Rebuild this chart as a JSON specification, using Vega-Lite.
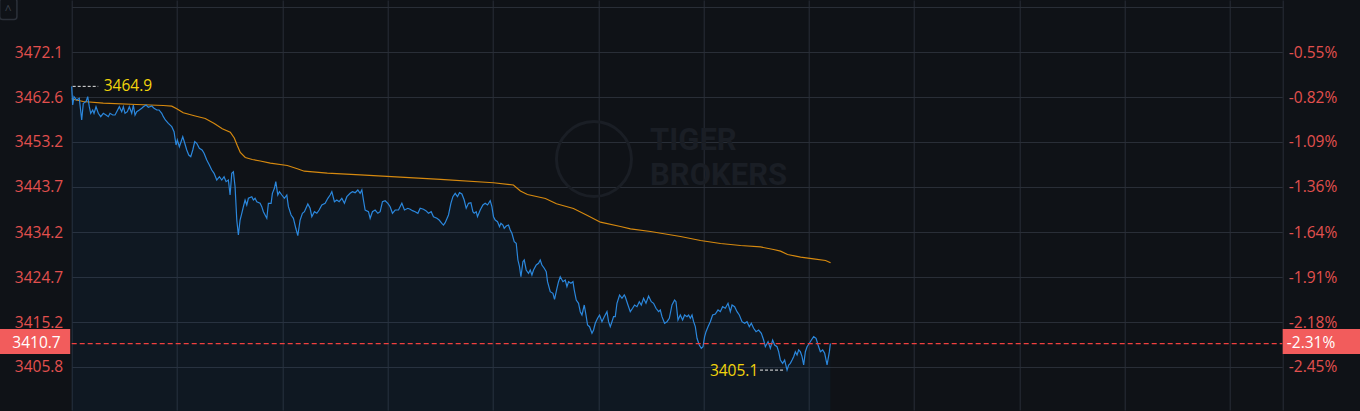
{
"$schema":"https://vega.github.io/schema/vega-lite/v6.json",
"width":1210.6,"height":410,"autosize":"none",
"padding":{"left":71.7,"right":77.7,"top":0,"bottom":1},
"background":"#0f1217",
"config":{"view":{"stroke":null},"axis":{"labelFont":"Open Sans","labelFontSize":15.5}},
"datasets":{
"price":[
{"t":0,"v":3464.9},{"t":0.2,"v":3460.97},{"t":0.46,"v":3462.72},{"t":1.0,"v":3462.02},{"t":1.52,"v":3462.38},{"t":2.0,"v":3457.81},{"t":2.32,"v":3461.33},{"t":2.86,"v":3461.67},{"t":3.2,"v":3462.72},{"t":3.52,"v":3460.61},{"t":3.8,"v":3459.22},{"t":4.2,"v":3459.92},{"t":4.46,"v":3459.22},{"t":4.86,"v":3460.61},{"t":5.32,"v":3459.22},{"t":5.8,"v":3458.51},{"t":6.32,"v":3459.22},{"t":6.86,"v":3458.86},{"t":7.32,"v":3458.51},{"t":7.66,"v":3459.22},{"t":8.2,"v":3458.86},{"t":8.66,"v":3458.86},{"t":9.0,"v":3459.56},{"t":9.52,"v":3460.61},{"t":10.0,"v":3459.56},{"t":10.32,"v":3460.61},{"t":10.66,"v":3459.22},{"t":11.12,"v":3459.56},{"t":11.52,"v":3460.61},{"t":12.0,"v":3459.22},{"t":12.32,"v":3460.97},{"t":12.66,"v":3458.86},{"t":13.0,"v":3459.56},{"t":13.52,"v":3459.92},{"t":14.0,"v":3460.28},{"t":14.32,"v":3460.61},{"t":14.86,"v":3460.97},{"t":15.32,"v":3460.49},{"t":16.0,"v":3460.76},{"t":16.46,"v":3460.28},{"t":17.0,"v":3459.92},{"t":17.46,"v":3459.92},{"t":18.0,"v":3459.22},{"t":18.32,"v":3458.51},{"t":18.72,"v":3457.81},{"t":19.32,"v":3457.11},{"t":20.0,"v":3456.4},{"t":20.46,"v":3455.34},{"t":20.86,"v":3452.54},{"t":21.12,"v":3453.59},{"t":21.52,"v":3452.18},{"t":22.2,"v":3454.29},{"t":22.6,"v":3452.9},{"t":23.0,"v":3451.49},{"t":23.4,"v":3450.43},{"t":23.8,"v":3450.08},{"t":24.2,"v":3451.49},{"t":24.6,"v":3453.24},{"t":25.0,"v":3452.9},{"t":25.52,"v":3451.85},{"t":26.06,"v":3451.49},{"t":26.46,"v":3450.79},{"t":27.0,"v":3449.38},{"t":27.52,"v":3448.33},{"t":28.0,"v":3447.27},{"t":28.46,"v":3446.58},{"t":29.0,"v":3445.16},{"t":29.52,"v":3445.86},{"t":30.0,"v":3445.16},{"t":30.46,"v":3445.86},{"t":30.86,"v":3444.81},{"t":31.32,"v":3445.16},{"t":31.66,"v":3442.0},{"t":32.0,"v":3446.58},{"t":32.32,"v":3446.91},{"t":32.66,"v":3443.75},{"t":33.0,"v":3436.73},{"t":33.32,"v":3433.57},{"t":33.66,"v":3436.73},{"t":34.0,"v":3438.15},{"t":34.32,"v":3439.54},{"t":34.66,"v":3440.95},{"t":35.0,"v":3439.9},{"t":35.32,"v":3441.31},{"t":36.0,"v":3441.65},{"t":36.32,"v":3440.95},{"t":36.66,"v":3441.31},{"t":37.0,"v":3440.59},{"t":37.66,"v":3440.25},{"t":38.0,"v":3439.54},{"t":38.32,"v":3438.48},{"t":39.0,"v":3437.09},{"t":39.32,"v":3440.25},{"t":39.86,"v":3440.25},{"t":40.12,"v":3442.36},{"t":40.52,"v":3443.42},{"t":40.8,"v":3444.81},{"t":41.2,"v":3442.0},{"t":41.52,"v":3442.7},{"t":42.0,"v":3442.0},{"t":42.52,"v":3441.31},{"t":43.0,"v":3442.0},{"t":43.32,"v":3439.54},{"t":43.86,"v":3437.79},{"t":44.32,"v":3437.09},{"t":44.8,"v":3434.99},{"t":45.2,"v":3433.43},{"t":45.66,"v":3436.73},{"t":46.12,"v":3438.15},{"t":46.52,"v":3438.48},{"t":47.2,"v":3440.11},{"t":47.66,"v":3439.2},{"t":48.0,"v":3437.43},{"t":48.52,"v":3438.48},{"t":49.0,"v":3438.15},{"t":49.46,"v":3438.84},{"t":50.0,"v":3439.9},{"t":50.66,"v":3440.25},{"t":51.2,"v":3441.31},{"t":51.66,"v":3442.0},{"t":52.0,"v":3442.7},{"t":52.52,"v":3440.59},{"t":53.0,"v":3440.95},{"t":53.46,"v":3440.59},{"t":54.0,"v":3441.31},{"t":54.52,"v":3440.25},{"t":55.0,"v":3441.65},{"t":55.66,"v":3442.36},{"t":56.12,"v":3442.7},{"t":56.66,"v":3442.49},{"t":57.2,"v":3443.06},{"t":57.66,"v":3442.36},{"t":58.0,"v":3443.06},{"t":58.32,"v":3440.95},{"t":58.66,"v":3438.84},{"t":59.32,"v":3438.48},{"t":59.66,"v":3437.09},{"t":60.12,"v":3438.48},{"t":60.66,"v":3438.84},{"t":61.2,"v":3438.15},{"t":61.66,"v":3438.48},{"t":62.12,"v":3440.59},{"t":62.66,"v":3440.8},{"t":63.2,"v":3440.25},{"t":63.66,"v":3439.54},{"t":64.12,"v":3438.15},{"t":64.66,"v":3438.84},{"t":65.32,"v":3438.84},{"t":66.0,"v":3440.25},{"t":66.52,"v":3438.84},{"t":67.2,"v":3439.2},{"t":67.66,"v":3438.99},{"t":68.12,"v":3438.7},{"t":68.66,"v":3438.48},{"t":69.2,"v":3438.15},{"t":69.66,"v":3439.2},{"t":70.32,"v":3438.99},{"t":70.8,"v":3438.7},{"t":71.32,"v":3438.15},{"t":71.86,"v":3438.48},{"t":72.32,"v":3437.43},{"t":73.0,"v":3437.09},{"t":73.46,"v":3436.73},{"t":74.0,"v":3436.04},{"t":74.32,"v":3435.68},{"t":74.66,"v":3436.17},{"t":75.32,"v":3437.79},{"t":75.8,"v":3440.25},{"t":76.2,"v":3441.65},{"t":76.66,"v":3442.36},{"t":77.12,"v":3441.65},{"t":77.52,"v":3442.49},{"t":78.0,"v":3442.21},{"t":78.46,"v":3440.95},{"t":78.86,"v":3439.2},{"t":79.32,"v":3440.25},{"t":79.8,"v":3440.38},{"t":80.2,"v":3438.48},{"t":80.46,"v":3438.15},{"t":80.86,"v":3438.48},{"t":81.12,"v":3437.43},{"t":81.66,"v":3438.84},{"t":82.2,"v":3439.9},{"t":82.66,"v":3440.25},{"t":83.12,"v":3439.9},{"t":83.66,"v":3440.8},{"t":84.0,"v":3439.54},{"t":84.32,"v":3437.43},{"t":84.66,"v":3436.73},{"t":85.12,"v":3436.38},{"t":85.52,"v":3435.32},{"t":85.8,"v":3436.04},{"t":86.2,"v":3435.68},{"t":86.46,"v":3434.99},{"t":86.86,"v":3435.47},{"t":87.32,"v":3435.68},{"t":87.66,"v":3434.63},{"t":88.0,"v":3433.93},{"t":88.46,"v":3432.16},{"t":88.86,"v":3431.82},{"t":89.2,"v":3428.3},{"t":89.52,"v":3426.89},{"t":89.8,"v":3424.78},{"t":90.2,"v":3427.95},{"t":90.46,"v":3428.3},{"t":90.86,"v":3426.2},{"t":91.32,"v":3425.5},{"t":91.66,"v":3426.2},{"t":92.0,"v":3425.14},{"t":92.32,"v":3426.2},{"t":92.86,"v":3427.25},{"t":93.32,"v":3427.61},{"t":93.66,"v":3428.3},{"t":94.0,"v":3427.25},{"t":94.46,"v":3426.56},{"t":94.86,"v":3425.84},{"t":95.12,"v":3423.73},{"t":95.66,"v":3421.62},{"t":96.2,"v":3421.29},{"t":96.52,"v":3420.02},{"t":97.0,"v":3422.34},{"t":97.32,"v":3423.73},{"t":97.66,"v":3424.78},{"t":98.2,"v":3423.73},{"t":98.66,"v":3424.09},{"t":99.0,"v":3422.68},{"t":99.32,"v":3423.73},{"t":99.8,"v":3423.39},{"t":100.2,"v":3423.73},{"t":100.46,"v":3421.98},{"t":100.86,"v":3419.87},{"t":101.32,"v":3419.18},{"t":101.66,"v":3417.41},{"t":102.0,"v":3416.71},{"t":102.46,"v":3418.82},{"t":102.86,"v":3416.36},{"t":103.12,"v":3414.61},{"t":103.52,"v":3414.25},{"t":104.0,"v":3412.86},{"t":104.32,"v":3413.55},{"t":104.66,"v":3414.96},{"t":105.12,"v":3416.02},{"t":105.52,"v":3416.71},{"t":106.0,"v":3415.3},{"t":106.46,"v":3416.36},{"t":107.0,"v":3417.41},{"t":107.32,"v":3415.3},{"t":107.66,"v":3414.25},{"t":108.0,"v":3415.3},{"t":108.32,"v":3416.36},{"t":108.66,"v":3416.36},{"t":109.0,"v":3419.18},{"t":109.52,"v":3420.93},{"t":110.0,"v":3420.23},{"t":110.46,"v":3420.93},{"t":110.66,"v":3420.57},{"t":111.2,"v":3418.82},{"t":111.66,"v":3417.41},{"t":112.12,"v":3418.13},{"t":112.52,"v":3418.82},{"t":113.0,"v":3418.46},{"t":113.46,"v":3419.52},{"t":113.86,"v":3418.82},{"t":114.32,"v":3420.23},{"t":114.8,"v":3419.18},{"t":115.32,"v":3420.72},{"t":115.86,"v":3419.52},{"t":116.32,"v":3419.18},{"t":116.8,"v":3418.13},{"t":117.32,"v":3417.41},{"t":117.66,"v":3417.77},{"t":118.0,"v":3416.36},{"t":118.52,"v":3414.96},{"t":119.0,"v":3415.3},{"t":119.46,"v":3416.02},{"t":120.0,"v":3418.82},{"t":120.52,"v":3419.87},{"t":120.8,"v":3419.52},{"t":121.2,"v":3415.66},{"t":121.66,"v":3416.71},{"t":122.12,"v":3415.66},{"t":122.52,"v":3416.71},{"t":123.0,"v":3416.36},{"t":123.32,"v":3416.71},{"t":123.66,"v":3416.02},{"t":124.0,"v":3416.71},{"t":124.32,"v":3415.3},{"t":124.66,"v":3414.25},{"t":125.0,"v":3411.8},{"t":125.46,"v":3410.39},{"t":125.86,"v":3409.7},{"t":126.2,"v":3410.03},{"t":126.52,"v":3412.14},{"t":126.8,"v":3413.19},{"t":127.2,"v":3414.25},{"t":127.66,"v":3415.3},{"t":128.12,"v":3416.71},{"t":128.66,"v":3416.92},{"t":129.2,"v":3417.77},{"t":129.66,"v":3417.41},{"t":130.12,"v":3418.46},{"t":130.66,"v":3418.13},{"t":131.2,"v":3419.18},{"t":131.66,"v":3417.41},{"t":132.0,"v":3418.82},{"t":132.52,"v":3418.46},{"t":133.0,"v":3417.41},{"t":133.46,"v":3416.71},{"t":134.0,"v":3415.3},{"t":134.52,"v":3414.96},{"t":135.0,"v":3415.3},{"t":135.46,"v":3414.25},{"t":135.86,"v":3414.96},{"t":136.32,"v":3413.91},{"t":136.8,"v":3413.19},{"t":137.32,"v":3413.55},{"t":137.86,"v":3412.86},{"t":138.32,"v":3411.44},{"t":138.66,"v":3410.03},{"t":139.2,"v":3411.09},{"t":139.66,"v":3409.7},{"t":140.12,"v":3411.44},{"t":140.52,"v":3410.39},{"t":141.0,"v":3410.03},{"t":141.32,"v":3408.98},{"t":141.66,"v":3407.23},{"t":142.12,"v":3406.53},{"t":142.52,"v":3407.23},{"t":143.0,"v":3405.1},{"t":143.32,"v":3406.18},{"t":143.66,"v":3406.53},{"t":144.0,"v":3407.23},{"t":144.32,"v":3407.93},{"t":144.66,"v":3408.98},{"t":145.0,"v":3408.28},{"t":145.32,"v":3409.34},{"t":145.66,"v":3408.98},{"t":146.0,"v":3407.93},{"t":146.32,"v":3406.18},{"t":146.66,"v":3408.98},{"t":147.0,"v":3410.03},{"t":147.46,"v":3410.75},{"t":147.86,"v":3411.44},{"t":148.32,"v":3412.14},{"t":148.8,"v":3411.8},{"t":149.2,"v":3410.39},{"t":149.66,"v":3408.98},{"t":150.12,"v":3409.34},{"t":150.52,"v":3408.64},{"t":151.0,"v":3406.18},{"t":151.46,"v":3408.98},{"t":151.66,"v":3410.7}
],
"avg":[
{"t":0,"v":3462.28},{"t":0.66,"v":3462.07},{"t":2.3,"v":3461.71},{"t":6.3,"v":3461.35},{"t":13,"v":3461.08},{"t":18.3,"v":3460.87},{"t":20,"v":3460.72},{"t":21,"v":3460.17},{"t":22.3,"v":3459.33},{"t":24.7,"v":3458.65},{"t":26.7,"v":3458.13},{"t":28.5,"v":3457.07},{"t":30.1,"v":3455.96},{"t":31.7,"v":3455.24},{"t":32.5,"v":3454.02},{"t":33.1,"v":3452.44},{"t":33.7,"v":3450.96},{"t":34.7,"v":3449.91},{"t":36.1,"v":3449.49},{"t":37.7,"v":3449.17},{"t":39.7,"v":3448.71},{"t":43.1,"v":3448.22},{"t":45.1,"v":3447.53},{"t":46.5,"v":3447.02},{"t":51.1,"v":3446.6},{"t":57.7,"v":3446.26},{"t":65.7,"v":3445.76},{"t":73.7,"v":3445.31},{"t":84.3,"v":3444.58},{"t":88.3,"v":3444.11},{"t":89.7,"v":3442.85},{"t":91.1,"v":3442.11},{"t":94.7,"v":3441.27},{"t":96.9,"v":3440.15},{"t":100.3,"v":3439.16},{"t":103.1,"v":3437.68},{"t":105.7,"v":3436.27},{"t":109.7,"v":3435.37},{"t":111.7,"v":3434.88},{"t":115.7,"v":3434.31},{"t":121.7,"v":3433.26},{"t":125.7,"v":3432.41},{"t":129.7,"v":3431.78},{"t":133.7,"v":3431.36},{"t":137.7,"v":3431.05},{"t":140.3,"v":3430.52},{"t":141.7,"v":3430.16},{"t":143.1,"v":3429.47},{"t":145.7,"v":3428.9},{"t":148.3,"v":3428.56},{"t":150.7,"v":3428.2},{"t":151.7,"v":3427.72}
],
"current":[{"t":0,"t2":242,"v":3410.7}],
"boxes":[{"t":-14.4,"t2":-0.3,"v":3408.5,"v2":3413.76},{"t":242.08,"t2":257.7,"v":3408.5,"v2":3413.76}],
"button":[{"t":-14.4,"t2":-10.95,"v":3483.4,"v2":3479.0,"lt":-12.7,"lv":3481.0,"label":"^"}],
"maxnote":[{"t":0.2,"t2":5.3,"v":3464.9,"label":"3464.9","lt":6.4}],
"minnote":[{"t":137.6,"t2":142.6,"v":3405.1,"label":"3405.1","lt":137.25}],
"watermark":[{"t":115.6,"v":3453.28,"label":"TIGER"},{"t":115.6,"v":3446.11,"label":"BROKERS"}],
"logo":[{"t":104.4,"v":3449.59}]
},
"layer":[
{"data":{"name":"price"},"mark":{"type":"area","fill":"#1e78be","fillOpacity":0.07},
 "encoding":{"x":{"field":"t","type":"quantitative","scale":{"domain":[0,242],"nice":false,"zero":false},"axis":{"values":[0,21.05,42.1,63.15,84.2,105.25,126.3,147.35,168.4,189.45,210.5,231.55,242],"grid":true,"gridColor":"#292e37","labels":false,"ticks":false,"domain":false,"title":null}},
  "y":{"field":"v","type":"quantitative","scale":{"domain":[3396.69,3483.1],"nice":false,"zero":false},"axis":{"orient":"left","values":[3405.8,3415.2,3424.7,3434.2,3443.7,3453.2,3462.6,3472.1,3481.6],"grid":true,"gridColor":"#292e37","domain":false,"ticks":false,"labelColor":"#e2504e","labelPadding":9,"title":null,"labelExpr":"datum.value > 3480 ? '' : format(datum.value, '.1f')"}}}},
{"data":{"name":"logo"},"mark":{"type":"point","shape":"circle","filled":false,"stroke":"#1a1e25","strokeWidth":3,"size":5625,"opacity":1},
 "encoding":{"x":{"field":"t","type":"quantitative","axis":null},"y":{"field":"v","type":"quantitative","axis":null}}},
{"data":{"name":"watermark"},"mark":{"type":"text","align":"left","baseline":"middle","font":"Roboto","fontSize":31,"fontWeight":"bold","color":"#1a1e25"},
 "encoding":{"x":{"field":"t","type":"quantitative","axis":null},"y":{"field":"v","type":"quantitative","axis":null},"text":{"field":"label"}}},
{"data":{"name":"avg"},"mark":{"type":"line","color":"#d6890f","strokeWidth":1.2},
 "encoding":{"x":{"field":"t","type":"quantitative","axis":null},"y":{"field":"v","type":"quantitative","axis":null}}},
{"data":{"name":"price"},"mark":{"type":"line","color":"#2b87dc","strokeWidth":1.2},
 "encoding":{"x":{"field":"t","type":"quantitative","axis":null},"y":{"field":"v","type":"quantitative","axis":null}}},
{"data":{"name":"current"},"mark":{"type":"rule","stroke":"#f0403f","strokeWidth":1.2,"strokeDash":[5,3],"opacity":1},
 "encoding":{"x":{"field":"t","type":"quantitative","axis":null},"x2":{"field":"t2"},
  "y":{"field":"v","type":"quantitative","axis":{"orient":"right","values":[3405.8,3415.2,3424.7,3434.2,3443.7,3453.2,3462.6,3472.1],"grid":false,"domain":false,"ticks":false,"labelColor":"#e2504e","labelPadding":6,"title":null,"labelExpr":"'-' + format((1 - datum.value/3491.3)*100, '.2f') + '%'"}}}},
{"data":{"name":"boxes"},"mark":{"type":"rect","color":"#f25c5c"},
 "encoding":{"x":{"field":"t","type":"quantitative","axis":null},"x2":{"field":"t2"},"y":{"field":"v","type":"quantitative","axis":null},"y2":{"field":"v2"}}},
{"data":{"name":"button"},"mark":{"type":"rect","fill":null,"stroke":"#2c313a","strokeWidth":1.5,"cornerRadius":3},
 "encoding":{"x":{"field":"t","type":"quantitative","axis":null},"x2":{"field":"t2"},"y":{"field":"v","type":"quantitative","axis":null},"y2":{"field":"v2"}}},
{"data":{"name":"button"},"mark":{"type":"text","align":"center","baseline":"middle","font":"Open Sans","fontSize":12,"color":"#3a404a"},
 "encoding":{"x":{"field":"lt","type":"quantitative","axis":null},"y":{"field":"lv","type":"quantitative","axis":null},"text":{"field":"label"}}},
{"data":{"values":[{"t":-7.04,"v":3410.7,"label":"3410.7"}]},"mark":{"type":"text","align":"center","baseline":"middle","font":"Open Sans","fontSize":15.5,"color":"#ffffff","dy":-1},
 "encoding":{"x":{"field":"t","type":"quantitative","axis":null},"y":{"field":"v","type":"quantitative","axis":null},"text":{"field":"label"}}},
{"data":{"values":[{"t":242.9,"v":3410.7,"label":"-2.31%"}]},"mark":{"type":"text","align":"left","baseline":"middle","font":"Open Sans","fontSize":15.5,"color":"#ffffff","dy":-1},
 "encoding":{"x":{"field":"t","type":"quantitative","axis":null},"y":{"field":"v","type":"quantitative","axis":null},"text":{"field":"label"}}},
{"data":{"name":"maxnote"},"mark":{"type":"rule","stroke":"#e8e8e8","strokeWidth":1,"strokeDash":[3,2]},
 "encoding":{"x":{"field":"t","type":"quantitative","axis":null},"x2":{"field":"t2"},"y":{"field":"v","type":"quantitative","axis":null}}},
{"data":{"name":"maxnote"},"mark":{"type":"text","align":"left","baseline":"middle","font":"Open Sans","fontSize":15.5,"color":"#f2d40c"},
 "encoding":{"x":{"field":"lt","type":"quantitative","axis":null},"y":{"field":"v","type":"quantitative","axis":null},"text":{"field":"label"}}},
{"data":{"name":"minnote"},"mark":{"type":"rule","stroke":"#e8e8e8","strokeWidth":1,"strokeDash":[3,2]},
 "encoding":{"x":{"field":"t","type":"quantitative","axis":null},"x2":{"field":"t2"},"y":{"field":"v","type":"quantitative","axis":null}}},
{"data":{"name":"minnote"},"mark":{"type":"text","align":"right","baseline":"middle","font":"Open Sans","fontSize":15.5,"color":"#f2d40c","dy":1},
 "encoding":{"x":{"field":"lt","type":"quantitative","axis":null},"y":{"field":"v","type":"quantitative","axis":null},"text":{"field":"label"}}}
],
"resolve":{"axis":{"x":"independent","y":"independent"}}
}
